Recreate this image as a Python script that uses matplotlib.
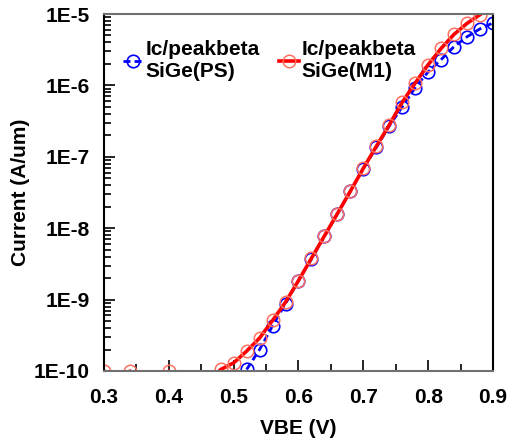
import matplotlib.pyplot as plt
from matplotlib.ticker import FixedLocator, LogLocator, NullFormatter

plt.rcParams['font.family'] = ['Liberation Sans', 'DejaVu Sans']
plt.rcParams['font.weight'] = 'bold'

vbe_ps = [0.52, 0.54, 0.56, 0.58, 0.60, 0.62, 0.64, 0.66, 0.68, 0.70,
          0.72, 0.74, 0.76, 0.78, 0.80, 0.82, 0.84, 0.86, 0.88, 0.90]
ic_ps = [1.05e-10, 2.0e-10, 4.3e-10, 8.8e-10, 1.85e-9, 3.7e-9, 7.7e-9, 1.6e-8, 3.3e-8, 6.8e-8,
         1.35e-7, 2.7e-7, 5.0e-7, 9.3e-7, 1.55e-6, 2.3e-6, 3.5e-6, 4.8e-6, 6.2e-6, 7.5e-6]

vbe_m1 = [0.30, 0.32, 0.34, 0.36, 0.38, 0.40, 0.42, 0.44, 0.46, 0.48, 0.50,
          0.52, 0.54, 0.56, 0.58, 0.60, 0.62, 0.64, 0.66, 0.68, 0.70,
          0.72, 0.74, 0.76, 0.78, 0.80, 0.82, 0.84, 0.86, 0.88, 0.90]
ic_m1 = [1.0e-10, 5e-11, 1.0e-10, 5e-11, 5e-11, 1.0e-10, 5e-11, 5e-11, 7e-11, 1.05e-10, 1.3e-10,
         1.9e-10, 2.9e-10, 5.1e-10, 9.2e-10, 1.85e-9, 3.8e-9, 7.8e-9, 1.6e-8, 3.3e-8, 6.9e-8,
         1.4e-7, 2.8e-7, 5.8e-7, 1.08e-6, 1.95e-6, 3.3e-6, 5.2e-6, 7.4e-6, 9.8e-6, 1.3e-5]

fig = plt.figure(figsize=(5.09, 4.43), dpi=100)
ax = fig.add_axes([104/509, 1 - 371/443, 389/509, 357/443])

ax.plot(vbe_ps, ic_ps, color='blue', linestyle='--', dashes=(2.5, 1.5), linewidth=2,
        marker='o', markersize=9, markerfacecolor='none', markeredgecolor='blue',
        markeredgewidth=1.2, label='Ic/peakbeta\nSiGe(PS)')
ax.plot(vbe_m1, ic_m1, color='red', linestyle='-', linewidth=2.6,
        marker='o', markersize=9, markerfacecolor='none', markeredgecolor='#ff7060',
        markeredgewidth=1.1, label='Ic/peakbeta\nSiGe(M1)')

ax.set_yscale('log')
ax.set_xlim(0.3, 0.9)
ax.set_ylim(1e-10, 1e-5)
ax.set_xticks([0.3, 0.4, 0.5, 0.6, 0.7, 0.8, 0.9])
ax.set_xticklabels(['0.3', '0.4', '0.5', '0.6', '0.7', '0.8', '0.9'])
ax.xaxis.set_minor_locator(FixedLocator([0.35, 0.45, 0.55, 0.65, 0.75, 0.85]))
ax.set_yticks([1e-10, 1e-9, 1e-8, 1e-7, 1e-6, 1e-5])
ax.set_yticklabels(['1E-10', '1E-9', '1E-8', '1E-7', '1E-6', '1E-5'])
ax.yaxis.set_minor_locator(LogLocator(base=10, subs=range(2, 10)))
ax.yaxis.set_minor_formatter(NullFormatter())

ax.tick_params(which='both', direction='in', labelsize=15, width=1.2)
ax.tick_params(which='major', length=8)
ax.tick_params(which='minor', length=5)
ax.tick_params(axis='x', pad=12)
ax.tick_params(axis='y', pad=10)
for s in ax.spines.values():
    s.set_linewidth(1.5)
ax.spines['top'].set_color('#707070')
ax.spines['bottom'].set_color('#707070')

ax.set_xlabel('VBE (V)', fontsize=15, fontweight='bold', labelpad=9)
ax.set_ylabel('Current (A/um)', fontsize=15, fontweight='bold', labelpad=3)

ax.legend(loc='upper left', ncol=2, frameon=False, handlelength=1.0,
          columnspacing=0.9, handletextpad=0.1, labelspacing=0.5,
          bbox_to_anchor=(0.0, 0.98), prop={'weight': 'bold', 'size': 15})

fig.savefig('out.png', dpi=100)
